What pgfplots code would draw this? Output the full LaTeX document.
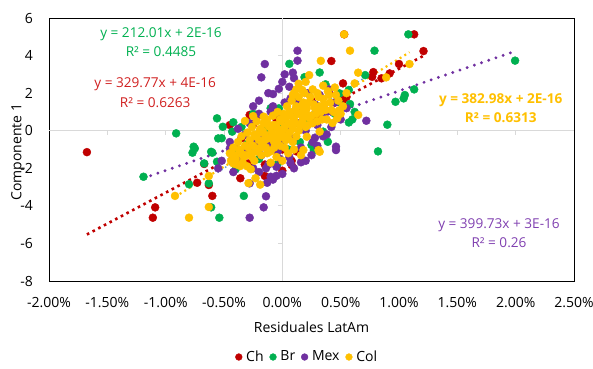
\documentclass[border=0pt]{standalone}
\usepackage{pgfplots}
\pgfplotsset{compat=1.18}
\usepackage{fontspec}
\setmainfont{Open Sans}
\definecolor{cCh}{HTML}{C00000}
\definecolor{cBr}{HTML}{00B050}
\definecolor{cMex}{HTML}{7030A0}
\definecolor{cCol}{HTML}{FFC000}
\definecolor{cTr}{HTML}{5B9BD5}
\definecolor{axgray}{HTML}{D9D9D9}
\definecolor{lblRed}{HTML}{D02020}
\definecolor{lblPur}{HTML}{8040B0}
\begin{document}
\fontsize{14bp}{17bp}\selectfont
\begin{tikzpicture}
\useasboundingbox (-49bp,-88bp) rectangle (544bp,281bp);
\begin{axis}[
  at={(0,0)}, anchor=south west,
  scale only axis, width=525bp, height=263bp,
  xmin=-2, xmax=2.5, ymin=-8, ymax=6,
  xtick={-2,-1.5,-1,-0.5,0,0.5,1,1.5,2,2.5},
  ytick={-8,-6,-4,-2,0,2,4,6},
  xticklabels={-2.00\%,-1.50\%,-1.00\%,-0.50\%,0.00\%,0.50\%,1.00\%,1.50\%,2.00\%,2.50\%},
  yticklabels={-8,-6,-4,-2,0,2,4,6},
  major tick length=0pt,
  axis line style={black, line width=0.9bp},
  xticklabel style={anchor=center, yshift=-22bp},
  yticklabel style={anchor=east, inner sep=0pt, xshift=-16bp},
  xlabel={Residuales LatAm}, ylabel={Componente 1},
  xlabel style={at={(axis description cs:0.5,-0.174)}, anchor=center},
  ylabel style={at={(axis description cs:-0.059,0.49)}, anchor=center},
  clip=false,
  legend columns=4,
  legend style={at={(axis description cs:0.492,-0.289)}, anchor=center, draw=none,
    /tikz/every even column/.append style={column sep=4bp},
    /tikz/every odd column/.append style={column sep=2bp}},
  legend image code/.code={\draw[#1, mark size=3.4bp] plot coordinates {(0bp,0bp)};},
]
\draw[axgray, line width=1.2bp] (axis cs:-2,0) -- (axis cs:2.5,0);
\draw[axgray, line width=1.2bp] (axis cs:0,-8) -- (axis cs:0,6);
\pgfplotsinvokeforeach{-1.5,-1,-0.5,0.5,1,1.5,2}{\draw[axgray, line width=1bp] (axis cs:#1,0) -- ++(0pt,-4bp);}
\pgfplotsinvokeforeach{-6,-4,-2,2,4}{\draw[axgray, line width=1bp] (axis cs:0,#1) -- ++(-4bp,0pt);}

\addplot[only marks, mark=*, color=cCh, mark size=4bp] coordinates {
(-1.675,-1.14) (-1.09,-4.08) (-1.11,-4.63) (-0.73,-2.77) (-0.63,-2.89) (-0.60,-3.47)
(-0.36,-2.53) (-0.15,-2.41) (0.0,-2.13) (0.08,-1.83) (-0.67,-1.77) (-0.29,-1.74)
(-0.25,0.34) (-0.28,0.84) (1.13,5.13) (1.21,4.24) (0.42,3.71) (1.0,3.55) (0.78,3.12)
(0.52,1.63) (0.52,2.52) (0.77,2.87) (0.85,2.79) (0.92,3.05) (0.53,5.13)
(-0.4,-1.6) (-0.35,-0.4) (-0.3,-1.2) (-0.2,-0.9) (-0.15,-1.8) (-0.1,-0.3) (-0.05,0.6)
(0.0,-1.0) (0.05,0.2) (0.1,-0.5) (0.15,1.0) (0.2,0.4) (0.25,1.6) (0.3,0.8) (0.35,1.3)
(0.4,2.0) (0.45,1.5) (0.55,1.8) (0.08,-1.6) (-0.45,0.3) (-0.22,0.7) (0.12,-1.1)
};
\addlegendentry{Ch}
\addplot[only marks, mark=*, color=cBr, mark size=4bp] coordinates {
(-0.91,-0.14) (-0.56,0.66) (-0.51,0.21) (-0.42,0.45) (-0.43,-0.05) (-0.52,-0.40)
(-0.55,-0.41) (-0.75,-0.94) (-0.76,-0.85) (-0.77,-1.17) (-0.61,-1.12) (-0.60,-1.17)
(-0.56,-1.65) (-0.67,-1.74) (-1.19,-2.45) (-0.80,-2.85) (-0.63,-2.80) (-0.33,-3.47)
(-0.61,-4.08) (-0.54,-4.63) (-0.04,-1.77) (-0.40,-2.05) (-0.03,1.19) (0.06,3.56)
(0.19,2.85) (1.08,5.13) (0.79,4.26) (1.995,3.73) (0.71,2.96) (1.13,2.20) (1.05,1.90)
(1.04,1.72) (0.97,1.54) (0.90,0.32) (0.82,-1.10) (0.58,1.42) (0.57,0.44) (0.32,3.10)
(0.37,2.47) (0.57,2.17) (0.49,1.99) (0.48,1.54) (0.35,-0.05) (0.39,-0.59) (0.25,-0.76)
(0.27,-1.03) (-0.38,-1.2) (-0.35,0.2) (-0.3,-0.7) (-0.25,0.9) (-0.2,-1.5) (-0.15,0.0)
(-0.1,1.2) (-0.05,-0.8) (0.0,0.4) (0.05,-1.0) (0.1,1.0) (0.15,-0.6) (0.2,0.6) (0.3,1.3)
(0.45,0.9) (0.6,0.6) (0.62,1.0)
};
\addlegendentry{Br}
\addplot[only marks, mark=*, color=cMex, mark size=4bp] coordinates {
(0.13,4.26) (0.13,3.73) (0.09,3.09) (-0.15,3.55) (-0.18,2.84) (-0.03,2.23) (-0.08,1.95)
(0.06,2.34) (0.72,0.53) (0.46,-0.85) (0.16,-1.68) (-0.28,-4.63) (-0.16,-4.08)
(-0.14,-3.49) (-0.28,-2.80) (-0.13,-2.77) (-0.10,-2.45) (-0.14,-2.0) (0.46,-1.03)
(0.28,-0.37) (-0.10,1.01) (-0.55,-2.0) (-0.52,-1.6) (-0.05,-1.92) (0.07,-1.72)
(-0.45,-0.94) (0.04,0.84) (0.07,1.72) (-0.02,0.84)
(-0.45,-0.6) (-0.42,-2.2) (-0.38,0.1) (-0.35,-1.5) (-0.32,-0.2) (-0.3,-1.0) (-0.28,0.4)
(-0.25,-2.0) (-0.22,-0.6) (-0.2,0.9) (-0.18,-1.3) (-0.16,-0.2) (-0.14,0.5) (-0.12,-1.8)
(-0.1,-0.7) (-0.08,1.3) (-0.06,0.2) (-0.04,-1.1) (0.0,-0.5) (0.02,1.5) (0.04,0.1)
(0.06,-1.4) (0.08,0.9) (0.1,-0.4) (0.12,1.6) (0.14,0.4) (0.16,-0.9) (0.18,1.2) (0.2,0.0)
(0.22,2.0) (0.24,0.7) (0.26,-0.6) (0.28,1.4) (0.3,0.3) (0.32,1.9) (0.35,-0.3) (0.38,1.0)
(0.4,2.2) (0.42,0.2) (0.45,1.5) (0.5,0.6) (0.55,1.2) (-0.05,-2.4) (0.0,-2.3)
(-0.2,1.6) (-0.12,2.0) (0.0,2.6) (-0.25,1.3) (0.1,2.8) (0.02,3.0) (0.35,1.0)
(0.3,-0.8) (0.38,-0.2) (0.25,-1.3) (0.2,-1.6) (0.1,-2.0) (-0.2,-2.2) (-0.08,-2.6) (-0.02,-1.5)
};
\addlegendentry{Mex}
\addplot[only marks, mark=*, color=cCol, mark size=4bp] coordinates {
(0.53,5.13) (0.58,4.26) (0.33,3.72) (0.65,3.09) (0.89,2.84) (1.09,3.55) (0.65,0.84)
(0.32,-1.12) (0.18,-1.03) (0.62,2.52) (0.23,2.96) (-0.92,-3.47) (-0.80,-4.63)
(-0.63,-4.06) (-0.63,-2.41) (-0.29,-2.79) (-0.19,-2.87) (-0.23,-2.53) (-0.27,-2.05)
(-0.36,-1.88) (-0.35,-1.24) (-0.42,-1.74) (-0.32,0.52) (-0.25,0.78) (-0.16,0.75)
(0.18,1.01) (0.32,-0.05) (0.43,0.41) (0.31,-1.03) (0.21,-0.32) (0.49,1.1) (0.47,0.66)
(0.09,1.9) (0.17,2.17) (0.05,-1.2) (0.1,-1.0) (0.16,-1.3) (-0.05,-1.4) (0.0,-1.6) (-0.1,-1.7)
(-0.45,-1.2) (-0.42,-0.9) (-0.40,-1.5) (-0.38,-0.6) (-0.36,-1.1) (-0.35,-0.3) (-0.33,-1.4)
(-0.32,-0.8) (-0.30,-0.1) (-0.30,-1.9) (-0.28,-0.5) (-0.27,-1.2) (-0.26,0.2) (-0.25,-0.8)
(-0.24,-1.6) (-0.23,-0.3) (-0.22,0.5) (-0.21,-1.0) (-0.20,-0.5) (-0.19,0.1) (-0.18,-1.3)
(-0.17,-0.7) (-0.16,0.4) (-0.15,-0.2) (-0.14,-0.9) (-0.13,0.6) (-0.12,-0.4) (-0.11,0.2)
(-0.10,-1.1) (-0.09,-0.1) (-0.08,0.8) (-0.07,-0.6) (-0.06,0.3) (-0.05,-0.3) (-0.04,1.0)
(-0.03,0.0) (-0.02,-0.8) (-0.01,0.5) (0.0,-0.2) (0.01,0.9) (0.02,0.2) (0.03,-0.5)
(0.04,1.3) (0.05,0.4) (0.06,-0.1) (0.07,0.8) (0.08,1.6) (0.09,0.1) (0.10,0.6) (0.11,1.1)
(0.12,-0.3) (0.13,0.9) (0.14,1.8) (0.15,0.3) (0.16,1.3) (0.18,0.7) (0.19,2.0) (0.20,1.0)
(0.22,0.3) (0.23,1.5) (0.25,0.8) (0.26,2.2) (0.28,1.2) (0.30,0.5) (0.31,1.8) (0.33,1.0)
(0.35,2.4) (0.36,1.4) (0.38,0.6) (0.40,1.9) (0.42,1.1) (0.45,2.3) (0.48,1.6) (0.50,0.9)
(-0.44,-1.6) (-0.41,-1.3) (-0.39,-1.8) (-0.37,-1.0) (-0.34,-1.7) (-0.31,-1.3) (-0.29,-0.9)
(-0.26,-1.4) (-0.24,-0.2) (-0.22,-1.1) (-0.20,-0.1) (-0.19,-0.9) (-0.17,0.0) (-0.15,-0.5)
(-0.13,-1.2) (-0.12,0.3) (-0.10,-0.4) (-0.08,0.3) (-0.07,-0.9) (-0.05,0.2) (-0.04,-0.5)
(-0.02,0.6) (-0.01,-0.3) (0.01,0.1) (0.02,-0.9) (0.03,0.7) (0.05,-0.4) (0.06,1.0)
(0.08,0.3) (0.09,-0.6) (0.11,0.4) (0.12,1.3) (0.14,0.0) (0.15,0.9) (0.17,0.5) (0.18,1.5)
(0.20,0.2) (0.21,1.2) (0.23,0.7) (0.24,1.8) (0.26,0.4) (0.27,1.4) (0.29,0.9) (0.30,2.0)
(0.32,1.3) (0.34,0.6) (0.35,1.7) (0.37,1.1) (0.39,2.1) (0.41,1.5) (0.44,1.0) (0.46,1.9)
(0.52,1.3) (0.55,2.0) (0.10,2.0) (0.14,2.5) (0.20,2.6) (0.12,2.2)
};
\addlegendentry{Col}

% trendlines
\addplot[forget plot, no marks, color=cCh, line width=2.6bp, dash pattern=on 2.6bp off 3.8bp] coordinates {(-1.675,-5.524) (1.21,3.990)};
\addplot[forget plot, no marks, color=cMex, line width=3.2bp, line cap=round, dash pattern=on 0bp off 7.6bp] coordinates {(-1.19,-2.523) (1.995,4.230)};
\addplot[forget plot, no marks, color=cTr, line width=2bp, line cap=round, dash pattern=on 0bp off 4.5bp] coordinates {(-0.55,-2.199) (0.72,2.878)};
\addplot[forget plot, no marks, color=cCol, line width=2.2bp, dash pattern=on 2bp off 3.5bp] coordinates {(-0.92,-3.523) (1.09,4.175)};

\node[text=cBr, align=center, font=\fontsize{13.6bp}{19.5bp}\selectfont] at (axis cs:-1.04,4.72) {y = 212.01x + 2E-16\\R² = 0.4485};
\node[text=lblRed, align=center, font=\fontsize{13.6bp}{19.5bp}\selectfont] at (axis cs:-1.09,2.02) {y = 329.77x + 4E-16\\R² = 0.6263};
\node[text=cCol, fill=white, inner sep=3bp, align=center, font=\fontsize{13.6bp}{18.5bp}\selectfont\bfseries] at (axis cs:1.872,1.21) {y = 382.98x + 2E-16\\R² = 0.6313};
\node[text=lblPur, align=center, font=\fontsize{13.6bp}{19bp}\selectfont] at (axis cs:1.857,-5.46) {y = 399.73x + 3E-16\\R² = 0.26};
\end{axis}
\end{tikzpicture}
\end{document}
